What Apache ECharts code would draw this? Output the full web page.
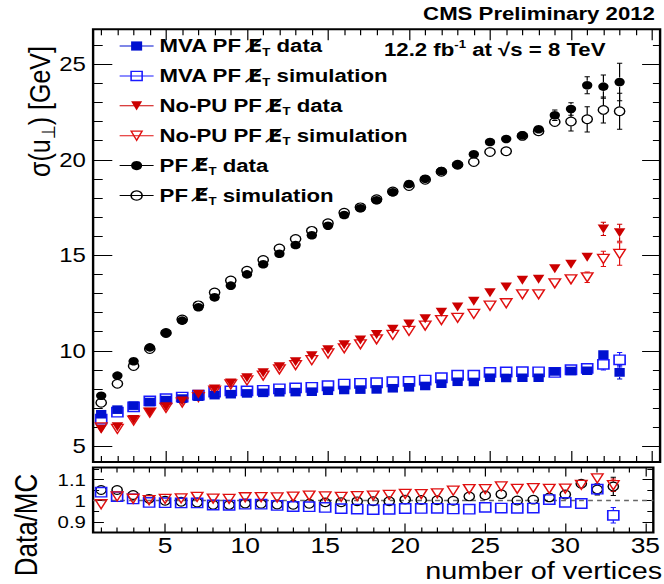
<!DOCTYPE html>
<html><head><meta charset="utf-8">
<script src="https://cdn.jsdelivr.net/npm/echarts@6/dist/echarts.min.js"></script>
<style>
html,body{margin:0;padding:0;background:#fff;overflow:hidden;}
#wrap{width:664px;height:584px;overflow:hidden;position:relative;}
#chart{width:553.33px;height:584px;transform:scaleX(1.2);transform-origin:0 0;}
</style></head><body><div id="wrap"><div id="chart"></div></div>
<script>
// ---------------- data ----------------
const nVtx = [1,2,3,4,5,6,7,8,9,10,11,12,13,14,15,16,17,18,19,20,21,22,23,24,25,26,27,28,29,30,31,32,33];

const pfData = [7.65,8.70,9.45,10.18,10.93,11.58,12.28,12.80,13.41,14.00,14.53,15.08,15.54,16.05,16.55,17.11,17.46,17.88,18.30,18.73,19.01,19.41,19.74,20.29,20.93,21.09,21.28,21.60,22.33,22.66,23.90,23.83,24.07];
const pfSim  = [7.28,8.28,9.20,10.09,10.93,11.64,12.38,13.05,13.68,14.19,14.75,15.36,15.85,16.28,16.68,17.23,17.51,17.93,18.34,18.63,18.95,19.37,19.74,19.88,20.41,20.45,21.25,21.49,21.98,22.00,22.12,22.61,22.54];
const pfDataErr = [0.06,0.05,0.04,0.04,0.03,0.03,0.03,0.03,0.03,0.03,0.03,0.04,0.04,0.04,0.04,0.05,0.05,0.05,0.06,0.06,0.07,0.08,0.09,0.10,0.12,0.14,0.17,0.21,0.28,0.33,0.44,0.61,0.98];
const pfSimErr  = [0.05,0.04,0.03,0.03,0.03,0.03,0.03,0.03,0.03,0.03,0.03,0.03,0.04,0.04,0.04,0.05,0.05,0.06,0.06,0.07,0.08,0.09,0.10,0.12,0.14,0.16,0.18,0.20,0.24,0.49,0.66,0.68,0.94];

const mvaData = [6.68,6.92,7.13,7.32,7.42,7.50,7.60,7.68,7.73,7.77,7.80,7.83,7.84,7.86,7.91,7.95,7.97,7.98,8.04,8.09,8.16,8.28,8.38,8.37,8.59,8.58,8.59,8.59,8.92,8.94,8.96,9.80,8.87];
const mvaSim  = [6.42,6.79,7.07,7.38,7.49,7.58,7.68,7.84,7.90,7.90,7.93,8.01,8.06,8.09,8.17,8.26,8.30,8.33,8.38,8.40,8.47,8.59,8.72,8.72,8.87,8.89,8.91,8.90,8.87,9.01,9.08,9.29,9.53];
const mvaDataErr = [0.04,0.03,0.03,0.02,0.02,0.02,0.02,0.02,0.02,0.02,0.02,0.02,0.02,0.02,0.02,0.03,0.03,0.03,0.03,0.03,0.04,0.04,0.05,0.05,0.06,0.06,0.07,0.08,0.09,0.10,0.15,0.23,0.35];
const mvaSimErr  = [0.03,0.03,0.02,0.02,0.02,0.02,0.02,0.02,0.02,0.02,0.02,0.02,0.02,0.02,0.02,0.03,0.03,0.03,0.03,0.04,0.04,0.05,0.05,0.06,0.06,0.07,0.07,0.08,0.09,0.12,0.15,0.30,0.38];

const nopuData = [5.89,6.03,6.41,6.78,7.07,7.37,7.72,8.00,8.31,8.59,8.85,9.17,9.43,9.74,10.06,10.32,10.57,10.86,11.13,11.40,11.68,12.02,12.29,12.59,13.04,13.34,13.69,13.74,14.30,14.53,14.90,16.38,16.18];
const nopuSim  = [5.99,5.91,6.35,6.76,7.01,7.29,7.58,7.92,8.24,8.45,8.70,9.03,9.25,9.51,9.86,10.13,10.34,10.60,10.83,11.04,11.32,11.61,11.73,11.93,12.36,12.49,12.96,12.96,13.53,13.74,13.85,14.81,15.07];
const nopuDataErr = [0.03,0.03,0.03,0.02,0.02,0.02,0.02,0.02,0.02,0.03,0.03,0.03,0.03,0.03,0.03,0.04,0.04,0.04,0.04,0.05,0.05,0.06,0.06,0.07,0.08,0.08,0.09,0.10,0.11,0.14,0.18,0.35,0.44];
const nopuSimErr  = [0.03,0.03,0.02,0.02,0.02,0.02,0.02,0.02,0.02,0.02,0.03,0.03,0.03,0.03,0.03,0.04,0.04,0.04,0.05,0.05,0.06,0.06,0.07,0.08,0.09,0.10,0.10,0.12,0.14,0.20,0.28,0.40,0.59];

// tick values / labels
const xMajorTicks = [5,10,15,20,25,30,35];
const xMinorTicks = [1,2,3,4,6,7,8,9,11,12,13,14,16,17,18,19,21,22,23,24,26,27,28,29,31,32,33,34];
const yMajorTicks = [5,10,15,20,25];
const yMinorTicks = [6,7,8,9,11,12,13,14,16,17,18,19,21,22,23,24,26];
const rMajorTicks = [0.9,1.0,1.1];
const rMinorTicks = [0.85,0.95,1.05,1.15];

const legendNames = ['MVA PF MET data','MVA PF MET simulation','No-PU PF MET data','No-PU PF MET simulation','PF MET data','PF MET simulation'];
const legendLabels = {
  'MVA PF MET data':'{t|MVA PF }{e|E\u0338}{s|T}{t| data}',
  'MVA PF MET simulation':'{t|MVA PF }{e|E\u0338}{s|T}{t| simulation}',
  'No-PU PF MET data':'{t|No-PU PF }{e|E\u0338}{s|T}{t| data}',
  'No-PU PF MET simulation':'{t|No-PU PF }{e|E\u0338}{s|T}{t| simulation}',
  'PF MET data':'{t|PF }{e|E\u0338}{s|T}{t| data}',
  'PF MET simulation':'{t|PF }{e|E\u0338}{s|T}{t| simulation}'
};

// ---------------- layout ----------------
const SX = 1.2;
const F = '"Liberation Sans", Arial, Helvetica, sans-serif';
const FD = '"DejaVu Sans", sans-serif';
const X_MIN = 0.5, X_MAX = 35.5;
const Y_MIN = 4.18, Y_MAX = 26.83;
const R_MIN = 0.849, R_MAX = 1.158;
const gLeft = 93.1/SX, gWidth = (660.1-93.1)/SX;
const grids = [
  {left:gLeft, width:gWidth, top:29.3, height:432.7, show:true, borderColor:'#000', borderWidth:2, backgroundColor:'transparent'},
  {left:gLeft, width:gWidth, top:467.5, height:65, show:true, borderColor:'#000', borderWidth:2, backgroundColor:'transparent'}
];

const BLUE = '#0010d0', BLUE2 = '#1a1aff', RED = '#cc0000', RED2 = '#e01010';

function xAx(gi, pos, vals, len, label) {
  return {type:'value', gridIndex:gi, min:X_MIN, max:X_MAX, position:pos,
    axisLine:{show:false, onZero:false}, splitLine:{show:false},
    axisTick:{show:true, inside:true, length:len, customValues:vals, lineStyle:{color:'#000', width:1}},
    axisLabel: label ? Object.assign({show:true, customValues:vals}, label) : {show:false}};
}
function yAx(gi, pos, mn, mx, vals, len, label) {
  return {type:'value', gridIndex:gi, min:mn, max:mx, position:pos,
    axisLine:{show:false, onZero:false}, splitLine:{show:false},
    axisTick:{show:true, inside:true, length:len, customValues:vals, lineStyle:{color:'#000', width:1}},
    axisLabel: label ? Object.assign({show:true, customValues:vals}, label) : {show:false}};
}
const xAxes = [
  xAx(0,'bottom',xMajorTicks,11), xAx(0,'bottom',xMinorTicks,6), xAx(0,'top',xMajorTicks,11), xAx(0,'top',xMinorTicks,6),
  xAx(1,'bottom',xMajorTicks,9,{fontSize:22, fontFamily:F, color:'#000', margin:2}), xAx(1,'bottom',xMinorTicks,5), xAx(1,'top',xMajorTicks,9), xAx(1,'top',xMinorTicks,5)
];
const yAxes = [
  yAx(0,'left',Y_MIN,Y_MAX,yMajorTicks,16,{fontSize:20, fontFamily:F, color:'#000', margin:6}), yAx(0,'left',Y_MIN,Y_MAX,yMinorTicks,8),
  yAx(0,'right',Y_MIN,Y_MAX,yMajorTicks,15), yAx(0,'right',Y_MIN,Y_MAX,yMinorTicks,6),
  yAx(1,'left',R_MIN,R_MAX,rMajorTicks,9,{fontSize:17, fontFamily:F, color:'#000', margin:6}), yAx(1,'left',R_MIN,R_MAX,rMinorTicks,5),
  yAx(1,'right',R_MIN,R_MAX,rMajorTicks,9), yAx(1,'right',R_MIN,R_MAX,rMinorTicks,5)
];

const HALF = 4.6; // marker half-height in px; error bars are drawn outside the marker
function errSeries(xs, ys, es, color, xi, yi, z) {
  return {type:'custom', xAxisIndex:xi, yAxisIndex:yi, z:z, silent:true, animation:false,
    encode:{x:0, y:1},
    data: xs.map((x,i)=>[x, ys[i], es[i]]),
    renderItem(params, api) {
      const x = api.value(0), y = api.value(1), e = api.value(2);
      const c = api.coord([x, y]), top = api.coord([x, y+e]), bot = api.coord([x, y-e]);
      const ch = [];
      const st = {stroke:color, lineWidth:1};
      if (c[1]-top[1] > HALF+0.5) {
        ch.push({type:'line', shape:{x1:c[0], y1:c[1]-HALF, x2:c[0], y2:top[1]}, style:st});
        ch.push({type:'line', shape:{x1:c[0]-2.2, y1:top[1], x2:c[0]+2.2, y2:top[1]}, style:st});
      }
      if (bot[1]-c[1] > HALF+0.5) {
        ch.push({type:'line', shape:{x1:c[0], y1:c[1]+HALF, x2:c[0], y2:bot[1]}, style:st});
        ch.push({type:'line', shape:{x1:c[0]-2.2, y1:bot[1], x2:c[0]+2.2, y2:bot[1]}, style:st});
      }
      return {type:'group', children:ch};
    }};
}
function markSeries(name, xs, ys, xi, yi, sym, size, fill, stroke, bw, rot, z) {
  return {type:'line', name:name, xAxisIndex:xi, yAxisIndex:yi, z:z, silent:true, animation:false,
    data: xs.map((x,i)=>[x, ys[i]]), symbol:sym, symbolSize:size, symbolRotate:rot, showSymbol:true,
    lineStyle:{width:0, opacity:0, color:stroke}, emphasis:{disabled:true},
    itemStyle:{color:fill, borderColor:stroke, borderWidth:bw}};
}

const ratio = (d, s) => d.map((v,i)=>v/s[i]);
const ratioErr = (d, de, s) => d.map((v,i)=>(v/s[i])*de[i]/v);
const pfRatio = ratio(pfData, pfSim), mvaRatio = ratio(mvaData, mvaSim), nopuRatio = ratio(nopuData, nopuSim);

const NONE = 'rgba(0,0,0,0)';
const series = [
  errSeries(nVtx, pfSim, pfSimErr, '#000', 0, 0, 1),
  errSeries(nVtx, pfData, pfDataErr, '#000', 0, 0, 1),
  errSeries(nVtx, mvaSim, mvaSimErr, BLUE2, 0, 0, 1),
  errSeries(nVtx, mvaData, mvaDataErr, BLUE, 0, 0, 1),
  errSeries(nVtx, nopuSim, nopuSimErr, RED2, 0, 0, 1),
  errSeries(nVtx, nopuData, nopuDataErr, RED, 0, 0, 1),
  markSeries(legendNames[1], nVtx, mvaSim, 0, 0, 'rect', [9.2,9.4], NONE, BLUE2, 1.4, 0, 2),
  markSeries(legendNames[3], nVtx, nopuSim, 0, 0, 'triangle', [9.6,9], NONE, RED2, 1.3, 180, 2),
  markSeries(legendNames[5], nVtx, pfSim, 0, 0, 'circle', [8.6,8.6], NONE, '#000', 1.2, 0, 2),
  markSeries(legendNames[0], nVtx, mvaData, 0, 0, 'rect', [8.6,8.6], BLUE, BLUE, 0, 0, 3),
  markSeries(legendNames[2], nVtx, nopuData, 0, 0, 'triangle', [9.6,9], RED, RED, 0, 180, 3),
  markSeries(legendNames[4], nVtx, pfData, 0, 0, 'circle', [8.6,8.6], '#000', '#000', 0, 0, 3),
  // ratio panel
  errSeries(nVtx, pfRatio, ratioErr(pfData, pfDataErr, pfSim), '#000', 4, 4, 1),
  errSeries(nVtx, mvaRatio, ratioErr(mvaData, mvaDataErr, mvaSim), BLUE2, 4, 4, 1),
  errSeries(nVtx, nopuRatio, ratioErr(nopuData, nopuDataErr, nopuSim), RED2, 4, 4, 1),
  Object.assign(markSeries('ratioPF', nVtx, pfRatio, 4, 4, 'circle', [8.6,8.6], NONE, '#000', 1.2, 0, 3), {
    markLine:{silent:true, symbol:'none', animation:false, label:{show:false}, z:1,
      lineStyle:{color:'#666', width:1.4, type:[4,3.5]}, data:[{yAxis:1}]}}),
  markSeries('ratioMVA', nVtx, mvaRatio, 4, 4, 'rect', [9.2,9.4], NONE, BLUE2, 1.4, 0, 3),
  markSeries('ratioNoPU', nVtx, nopuRatio, 4, 4, 'triangle', [9.6,9], NONE, RED2, 1.3, 180, 3)
];

const legendStyle = {
  [legendNames[0]]: {itemStyle:{color:BLUE, borderColor:BLUE, borderWidth:0}, lineStyle:{color:BLUE, width:1, opacity:1}},
  [legendNames[1]]: {itemStyle:{color:NONE, borderColor:BLUE2, borderWidth:1.3}, lineStyle:{color:BLUE2, width:1, opacity:1}},
  [legendNames[2]]: {itemStyle:{color:RED, borderColor:RED, borderWidth:0}, lineStyle:{color:RED, width:1, opacity:1}},
  [legendNames[3]]: {itemStyle:{color:NONE, borderColor:RED2, borderWidth:1.2}, lineStyle:{color:RED2, width:1, opacity:1}},
  [legendNames[4]]: {itemStyle:{color:'#000', borderColor:'#000', borderWidth:0}, lineStyle:{color:'#000', width:1, opacity:1}},
  [legendNames[5]]: {itemStyle:{color:NONE, borderColor:'#000', borderWidth:1.2}, lineStyle:{color:'#000', width:1, opacity:1}}
};

const LF = 18.5;
const option = {
  animation:false,
  backgroundColor:'#fff',
  grid: grids,
  xAxis: xAxes,
  yAxis: yAxes,
  legend: {
    orient:'vertical', left:99.2, top:34.5, padding:0, itemWidth:28.3, itemHeight:11.5, itemGap:6.9,
    selectedMode:false,
    data: legendNames.map(n => Object.assign({name:n}, legendStyle[n])),
    formatter: n => legendLabels[n],
    textStyle:{color:'#000', fontFamily:F, fontSize:LF, fontWeight:'bold',
      rich:{
        t:{fontFamily:F, fontSize:LF, fontWeight:'bold', color:'#000', lineHeight:22},
        e:{fontFamily:FD, fontSize:17.5, fontWeight:'bold', color:'#000', lineHeight:22},
        s:{fontFamily:F, fontSize:11, fontWeight:'bold', color:'#000', lineHeight:22, padding:[12,0,0,0]}
      }}
  },
  graphic: [
    {type:'text', x:545.8, y:14, silent:true, style:{text:'CMS Preliminary 2012', font:'bold 18.5px '+F, fill:'#000',
      align:'right', verticalAlign:'middle', textAlign:'right', textVerticalAlign:'middle'}},
    {type:'text', x:320, y:50, silent:true, style:{text:'{b|12.2 fb}{p|-1}{b| at \u221As = 8 TeV}', fill:'#000',
      align:'left', verticalAlign:'middle', textAlign:'left', textVerticalAlign:'middle',
      rich:{b:{fontFamily:F, fontSize:18.5, fontWeight:'bold', fill:'#000', color:'#000', lineHeight:22},
            p:{fontFamily:F, fontSize:11, fontWeight:'bold', fill:'#000', color:'#000', lineHeight:22, padding:[0,0,12,0]}}}},
    {type:'text', x:33.3, y:111.5, rotation:Math.PI/2, silent:true, style:{text:'{a|\u03C3(u}{s|\u22A5}{a|) [GeV]}', fill:'#000',
      align:'center', verticalAlign:'middle', textAlign:'center', textVerticalAlign:'middle',
      rich:{a:{fontFamily:F, fontSize:25, color:'#000', fill:'#000', lineHeight:30},
            s:{fontFamily:F, fontSize:16, color:'#000', fill:'#000', lineHeight:30, padding:[14,0,0,0]}}}},
    {type:'text', x:21.7, y:525, rotation:Math.PI/2, silent:true, style:{text:'Data/MC', font:'26px '+F, fill:'#000',
      align:'center', verticalAlign:'middle', textAlign:'center', textVerticalAlign:'middle'}},
    {type:'text', x:551.7, y:570.8, silent:true, style:{text:'number of vertices', font:'24px '+F, fill:'#000',
      align:'right', verticalAlign:'middle', textAlign:'right', textVerticalAlign:'middle'}}
  ],
  series: series
};

const chart = echarts.init(document.getElementById('chart'), null, {renderer:'svg'});
chart.setOption(option);
</script>
</body></html>
